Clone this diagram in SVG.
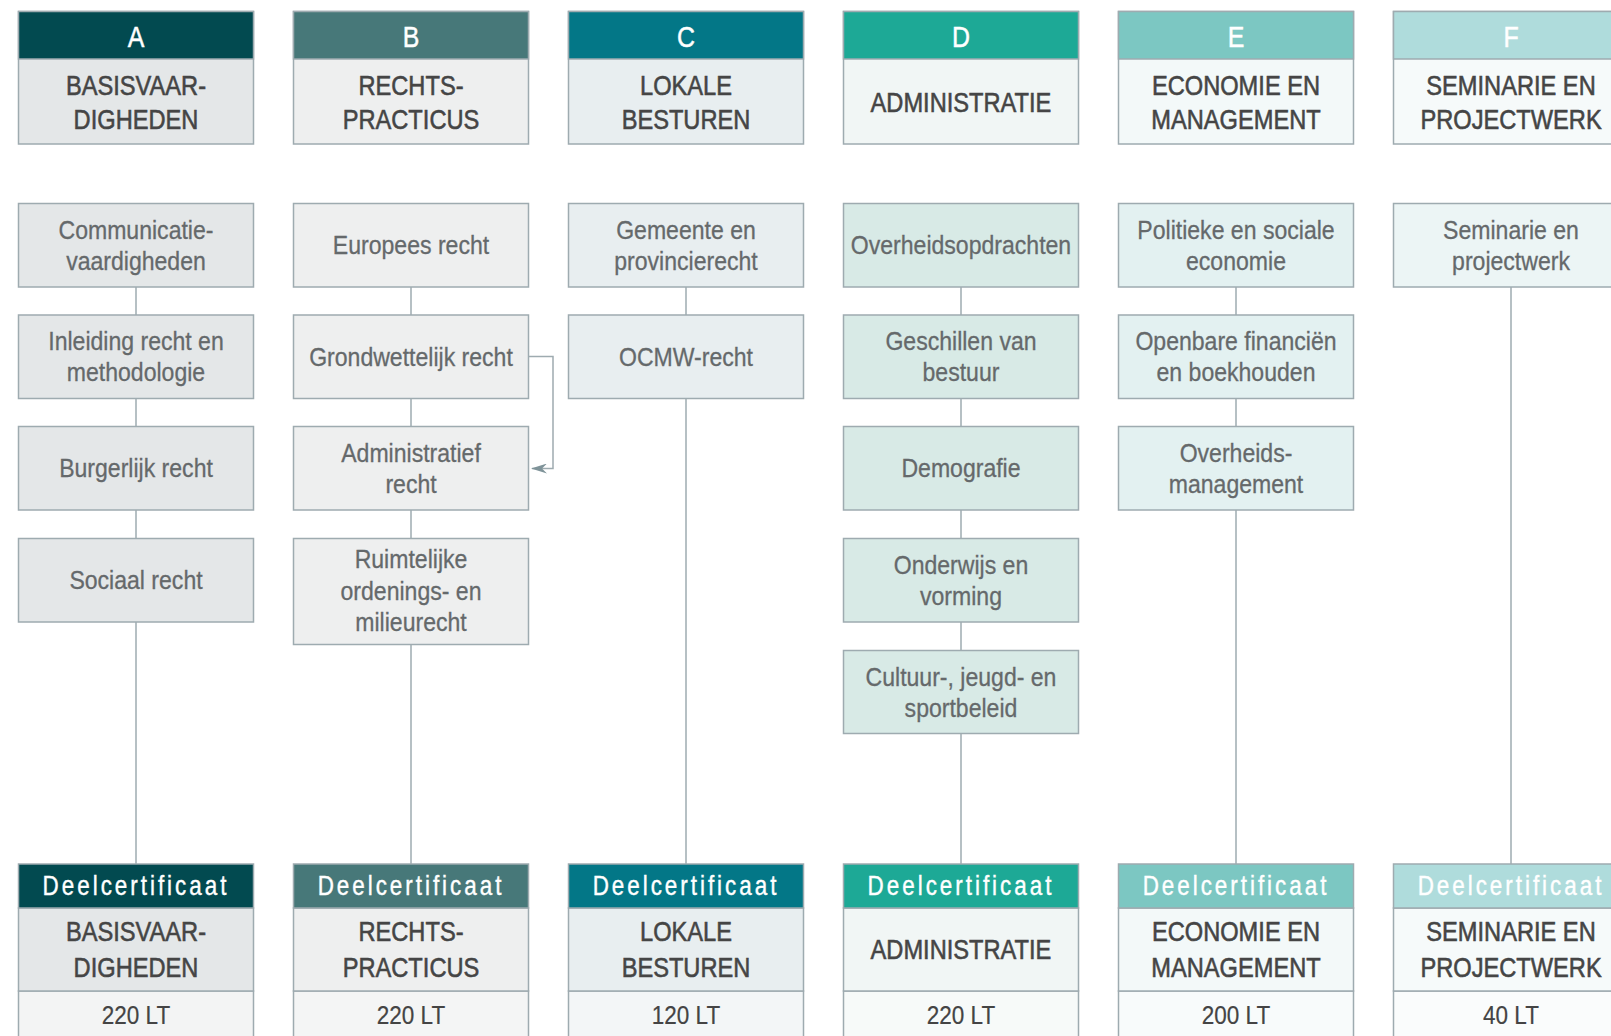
<svg xmlns="http://www.w3.org/2000/svg" width="1611" height="1036" viewBox="0 0 1611 1036">
<defs>
<style>
.bd{stroke:#9eabb0;stroke-width:1.5}
.ln{stroke:#9eabb0;stroke-width:1.5;fill:none}
text{font-family:"Liberation Sans Narrow","Liberation Sans",Arial,sans-serif;text-anchor:middle;transform-box:fill-box;transform-origin:center;transform:scaleX(0.83)}
.let{font-size:30px;fill:#ffffff;stroke:#ffffff;stroke-width:0.5}
.hn{font-size:28.5px;fill:#454545;stroke:#454545;stroke-width:0.6}
.st{font-size:26.5px;fill:#65696b;stroke:#65696b;stroke-width:0.3;transform:scaleX(0.87)}
.dc{font-size:27px;fill:#ffffff;stroke:#ffffff;stroke-width:0.4;letter-spacing:3.6px}
.lt{font-size:25px;fill:#444444;stroke:#444444;stroke-width:0.2;transform:scaleX(0.9)}
</style>
<marker id="arr" viewBox="0 0 16 10" refX="15" refY="5" markerWidth="16" markerHeight="10" markerUnits="userSpaceOnUse" orient="auto">
<path d="M0,0 L16,5 L0,10 L5,5 Z" fill="#7f9399"/>
</marker>
</defs>
<rect width="1611" height="1036" fill="#ffffff"/>

<g id="connectors">
<line class="ln" x1="136" y1="287" x2="136" y2="315"/>
<line class="ln" x1="136" y1="398.5" x2="136" y2="426.5"/>
<line class="ln" x1="136" y1="510" x2="136" y2="538.5"/>
<line class="ln" x1="136" y1="622" x2="136" y2="864"/>
<line class="ln" x1="411" y1="287" x2="411" y2="315"/>
<line class="ln" x1="411" y1="398.5" x2="411" y2="426.5"/>
<line class="ln" x1="411" y1="510" x2="411" y2="538.5"/>
<line class="ln" x1="411" y1="644.5" x2="411" y2="864"/>
<line class="ln" x1="686" y1="287" x2="686" y2="315"/>
<line class="ln" x1="686" y1="398.5" x2="686" y2="864"/>
<line class="ln" x1="961" y1="287" x2="961" y2="315"/>
<line class="ln" x1="961" y1="398.5" x2="961" y2="426.5"/>
<line class="ln" x1="961" y1="510" x2="961" y2="538.5"/>
<line class="ln" x1="961" y1="622" x2="961" y2="650.5"/>
<line class="ln" x1="961" y1="733.5" x2="961" y2="864"/>
<line class="ln" x1="1236" y1="287" x2="1236" y2="315"/>
<line class="ln" x1="1236" y1="398.5" x2="1236" y2="426.5"/>
<line class="ln" x1="1236" y1="510" x2="1236" y2="864"/>
<line class="ln" x1="1511" y1="287" x2="1511" y2="864"/>
<path class="ln" d="M529,356.5 H553 V468.5 H532" stroke="#7f9399" marker-end="url(#arr)"/>
</g>

<!-- Headers -->
<g id="header-A">
<rect class="bd" x="18.5" y="11.5" width="235" height="132.5" fill="#e4e7e8"/>
<rect class="bd" x="18.5" y="11.5" width="235" height="47.5" fill="#024a50"/>
<text class="let" x="136" y="47.5">A</text>
<text class="hn" x="136" y="95">BASISVAAR-</text>
<text class="hn" x="136" y="129">DIGHEDEN</text>
</g>
<g id="header-B">
<rect class="bd" x="293.5" y="11.5" width="235" height="132.5" fill="#eeefef"/>
<rect class="bd" x="293.5" y="11.5" width="235" height="47.5" fill="#477879"/>
<text class="let" x="411" y="47.5">B</text>
<text class="hn" x="411" y="95">RECHTS-</text>
<text class="hn" x="411" y="129">PRACTICUS</text>
</g>
<g id="header-C">
<rect class="bd" x="568.5" y="11.5" width="235" height="132.5" fill="#e8eef0"/>
<rect class="bd" x="568.5" y="11.5" width="235" height="47.5" fill="#037787"/>
<text class="let" x="686" y="47.5">C</text>
<text class="hn" x="686" y="95">LOKALE</text>
<text class="hn" x="686" y="129">BESTUREN</text>
</g>
<g id="header-D">
<rect class="bd" x="843.5" y="11.5" width="235" height="132.5" fill="#f1f6f5"/>
<rect class="bd" x="843.5" y="11.5" width="235" height="47.5" fill="#1da996"/>
<text class="let" x="961" y="47.5">D</text>
<text class="hn" x="961" y="112">ADMINISTRATIE</text>
</g>
<g id="header-E">
<rect class="bd" x="1118.5" y="11.5" width="235" height="132.5" fill="#f3f9f9"/>
<rect class="bd" x="1118.5" y="11.5" width="235" height="47.5" fill="#7cc7c2"/>
<text class="let" x="1236" y="47.5">E</text>
<text class="hn" x="1236" y="95">ECONOMIE EN</text>
<text class="hn" x="1236" y="129">MANAGEMENT</text>
</g>
<g id="header-F">
<rect class="bd" x="1393.5" y="11.5" width="235" height="132.5" fill="#f6fafa"/>
<rect class="bd" x="1393.5" y="11.5" width="235" height="47.5" fill="#afdcdc"/>
<text class="let" x="1511" y="47.5">F</text>
<text class="hn" x="1511" y="95">SEMINARIE EN</text>
<text class="hn" x="1511" y="129">PROJECTWERK</text>
</g>

<!-- Column A subjects -->
<g id="a1"><rect class="bd" x="18.5" y="203.5" width="235" height="83.5" fill="#e4e7e8"/>
<text class="st" x="136" y="239">Communicatie-</text><text class="st" x="136" y="270">vaardigheden</text></g>
<g id="a2"><rect class="bd" x="18.5" y="315" width="235" height="83.5" fill="#e4e7e8"/>
<text class="st" x="136" y="350.5">Inleiding recht en</text><text class="st" x="136" y="381.5">methodologie</text></g>
<g id="a3"><rect class="bd" x="18.5" y="426.5" width="235" height="83.5" fill="#e4e7e8"/>
<text class="st" x="136" y="477.5">Burgerlijk recht</text></g>
<g id="a4"><rect class="bd" x="18.5" y="538.5" width="235" height="83.5" fill="#e4e7e8"/>
<text class="st" x="136" y="589.5">Sociaal recht</text></g>

<!-- Column B subjects -->
<g id="b1"><rect class="bd" x="293.5" y="203.5" width="235" height="83.5" fill="#eeefef"/>
<text class="st" x="411" y="254.5">Europees recht</text></g>
<g id="b2"><rect class="bd" x="293.5" y="315" width="235" height="83.5" fill="#eeefef"/>
<text class="st" x="411" y="366">Grondwettelijk recht</text></g>
<g id="b3"><rect class="bd" x="293.5" y="426.5" width="235" height="83.5" fill="#eeefef"/>
<text class="st" x="411" y="462">Administratief</text><text class="st" x="411" y="493">recht</text></g>
<g id="b4"><rect class="bd" x="293.5" y="538.5" width="235" height="106" fill="#eeefef"/>
<text class="st" x="411" y="568.5">Ruimtelijke</text><text class="st" x="411" y="600">ordenings- en</text><text class="st" x="411" y="631.5">milieurecht</text></g>

<!-- Column C subjects -->
<g id="c1"><rect class="bd" x="568.5" y="203.5" width="235" height="83.5" fill="#e8eef0"/>
<text class="st" x="686" y="239">Gemeente en</text><text class="st" x="686" y="270">provincierecht</text></g>
<g id="c2"><rect class="bd" x="568.5" y="315" width="235" height="83.5" fill="#e8eef0"/>
<text class="st" x="686" y="366">OCMW-recht</text></g>

<!-- Column D subjects -->
<g id="d1"><rect class="bd" x="843.5" y="203.5" width="235" height="83.5" fill="#d8eae6"/>
<text class="st" x="961" y="254.5">Overheidsopdrachten</text></g>
<g id="d2"><rect class="bd" x="843.5" y="315" width="235" height="83.5" fill="#d8eae6"/>
<text class="st" x="961" y="350.5">Geschillen van</text><text class="st" x="961" y="381.5">bestuur</text></g>
<g id="d3"><rect class="bd" x="843.5" y="426.5" width="235" height="83.5" fill="#d8eae6"/>
<text class="st" x="961" y="477.5">Demografie</text></g>
<g id="d4"><rect class="bd" x="843.5" y="538.5" width="235" height="83.5" fill="#d8eae6"/>
<text class="st" x="961" y="574">Onderwijs en</text><text class="st" x="961" y="605">vorming</text></g>
<g id="d5"><rect class="bd" x="843.5" y="650.5" width="235" height="83" fill="#d8eae6"/>
<text class="st" x="961" y="686">Cultuur-, jeugd- en</text><text class="st" x="961" y="717">sportbeleid</text></g>

<!-- Column E subjects -->
<g id="e1"><rect class="bd" x="1118.5" y="203.5" width="235" height="83.5" fill="#e3f1f1"/>
<text class="st" x="1236" y="239">Politieke en sociale</text><text class="st" x="1236" y="270">economie</text></g>
<g id="e2"><rect class="bd" x="1118.5" y="315" width="235" height="83.5" fill="#e3f1f1"/>
<text class="st" x="1236" y="350.5">Openbare financiën</text><text class="st" x="1236" y="381.5">en boekhouden</text></g>
<g id="e3"><rect class="bd" x="1118.5" y="426.5" width="235" height="83.5" fill="#e3f1f1"/>
<text class="st" x="1236" y="462">Overheids-</text><text class="st" x="1236" y="493">management</text></g>

<!-- Column F subjects -->
<g id="f1"><rect class="bd" x="1393.5" y="203.5" width="235" height="83.5" fill="#ecf5f5"/>
<text class="st" x="1511" y="239">Seminarie en</text><text class="st" x="1511" y="270">projectwerk</text></g>

<!-- Certificates -->
<g id="cert-A">
<rect class="bd" x="18.5" y="991" width="235" height="50" fill="#f3f4f4"/>
<rect class="bd" x="18.5" y="908" width="235" height="83" fill="#e4e7e8"/>
<rect class="bd" x="18.5" y="864" width="235" height="44" fill="#024a50"/>
<text class="dc" x="136" y="895">Deelcertificaat</text>
<text class="hn" x="136" y="941">BASISVAAR-</text>
<text class="hn" x="136" y="977">DIGHEDEN</text>
<text class="lt" x="136" y="1024">220 LT</text>
</g>
<g id="cert-B">
<rect class="bd" x="293.5" y="991" width="235" height="50" fill="#f4f5f5"/>
<rect class="bd" x="293.5" y="908" width="235" height="83" fill="#eeefef"/>
<rect class="bd" x="293.5" y="864" width="235" height="44" fill="#477879"/>
<text class="dc" x="411" y="895">Deelcertificaat</text>
<text class="hn" x="411" y="941">RECHTS-</text>
<text class="hn" x="411" y="977">PRACTICUS</text>
<text class="lt" x="411" y="1024">220 LT</text>
</g>
<g id="cert-C">
<rect class="bd" x="568.5" y="991" width="235" height="50" fill="#f3f6f7"/>
<rect class="bd" x="568.5" y="908" width="235" height="83" fill="#e8eef0"/>
<rect class="bd" x="568.5" y="864" width="235" height="44" fill="#037787"/>
<text class="dc" x="686" y="895">Deelcertificaat</text>
<text class="hn" x="686" y="941">LOKALE</text>
<text class="hn" x="686" y="977">BESTUREN</text>
<text class="lt" x="686" y="1024">120 LT</text>
</g>
<g id="cert-D">
<rect class="bd" x="843.5" y="991" width="235" height="50" fill="#f7faf9"/>
<rect class="bd" x="843.5" y="908" width="235" height="83" fill="#f1f6f5"/>
<rect class="bd" x="843.5" y="864" width="235" height="44" fill="#1da996"/>
<text class="dc" x="961" y="895">Deelcertificaat</text>
<text class="hn" x="961" y="959.5">ADMINISTRATIE</text>
<text class="lt" x="961" y="1024">220 LT</text>
</g>
<g id="cert-E">
<rect class="bd" x="1118.5" y="991" width="235" height="50" fill="#f8fbfb"/>
<rect class="bd" x="1118.5" y="908" width="235" height="83" fill="#f3f9f9"/>
<rect class="bd" x="1118.5" y="864" width="235" height="44" fill="#7cc7c2"/>
<text class="dc" x="1236" y="895">Deelcertificaat</text>
<text class="hn" x="1236" y="941">ECONOMIE EN</text>
<text class="hn" x="1236" y="977">MANAGEMENT</text>
<text class="lt" x="1236" y="1024">200 LT</text>
</g>
<g id="cert-F">
<rect class="bd" x="1393.5" y="991" width="235" height="50" fill="#fafcfc"/>
<rect class="bd" x="1393.5" y="908" width="235" height="83" fill="#f6fafa"/>
<rect class="bd" x="1393.5" y="864" width="235" height="44" fill="#afdcdc"/>
<text class="dc" x="1511" y="895">Deelcertificaat</text>
<text class="hn" x="1511" y="941">SEMINARIE EN</text>
<text class="hn" x="1511" y="977">PROJECTWERK</text>
<text class="lt" x="1511" y="1024">40 LT</text>
</g>
</svg>
